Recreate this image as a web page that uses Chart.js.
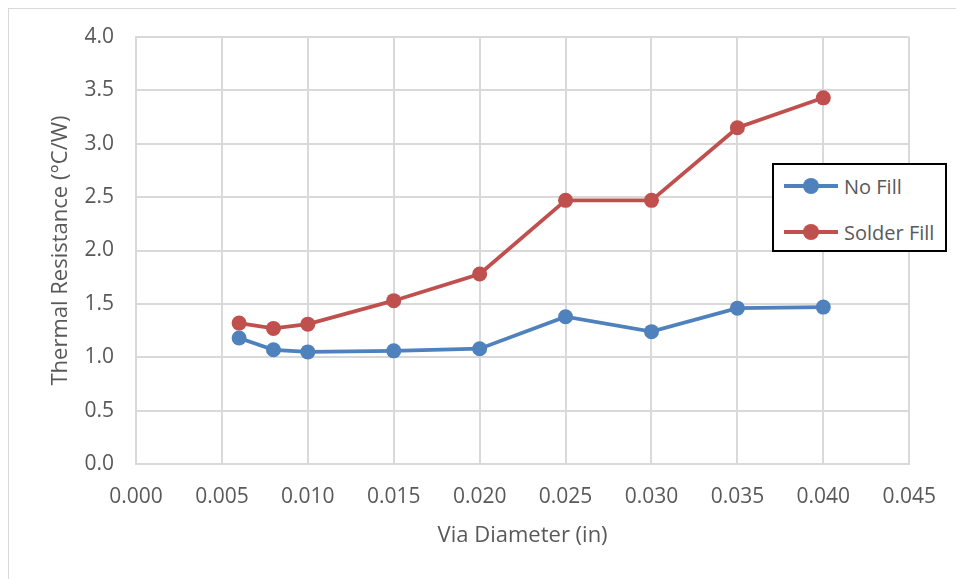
<!DOCTYPE html>
<html>
<head>
<meta charset="utf-8">
<script src="https://cdn.jsdelivr.net/npm/chart.js@4.4.1/dist/chart.umd.min.js"></script>
<style>
    html, body { margin: 0; padding: 0; background: #fff; }
    #wrap { position: relative; width: 956px; height: 579px; overflow: hidden; font-family: "Open Sans", sans-serif; }
    #frame { position: absolute; left: 8px; top: 8px; width: 1000px; height: 700px; border-top: 1px solid #d9d9d9; border-left: 1px solid #d9d9d9; }
    #chart { position: absolute; left: 0; top: 0; }
    #legend { position: absolute; left: 772px; top: 163px; width: 171px; height: 85px; border: 2px solid #000; background: #fff; }
    .item { position: absolute; left: 10px; height: 24px; display: flex; align-items: center; font-size: 20px; color: #595959; }
    .swatch { position: relative; width: 54px; height: 24px; margin-right: 6px; }
    .swatch .ln { position: absolute; left: 0; top: 10px; width: 54px; height: 4px; }
    .swatch .dot { position: absolute; left: 19px; top: 4px; width: 16px; height: 16px; border-radius: 50%; }
</style>
</head>
<body>
<div id="wrap">
    <div id="frame"></div>
    <canvas id="chart" width="956" height="579"></canvas>
    <div id="legend"></div>
</div>
<script>
const diameters = [0.006, 0.008, 0.010, 0.015, 0.020, 0.025, 0.030, 0.035, 0.040];
const noFill = [1.18, 1.07, 1.05, 1.06, 1.08, 1.38, 1.24, 1.46, 1.47];
const solderFill = [1.32, 1.27, 1.31, 1.53, 1.78, 2.47, 2.47, 3.15, 3.43];
const seriesNames = ['No Fill', 'Solder Fill'];
const seriesColors = ['#4f81bd', '#c0504d'];
const xTitle = 'Via Diameter (in)';
const yTitle = 'Thermal Resistance (°C/W)';

const tickFont = { family: '"Open Sans", sans-serif', size: 21 };
const titleFont = { family: '"Open Sans", sans-serif', size: 22 };

function toPoints(vals) {
    return vals.map((v, i) => ({ x: diameters[i], y: v }));
}

const datasets = [noFill, solderFill].map((vals, i) => ({
    label: seriesNames[i],
    data: toPoints(vals),
    borderColor: seriesColors[i],
    backgroundColor: seriesColors[i],
    borderWidth: 3.75,
    pointRadius: 7.5,
    pointHoverRadius: 7.5,
    pointBorderWidth: 0,
    tension: 0
}));

new Chart(document.getElementById('chart').getContext('2d'), {
    type: 'line',
    data: { datasets: datasets },
    options: {
        responsive: false,
        animation: false,
        layout: { padding: { top: 37, right: 44, left: 0, bottom: 0 } },
        plugins: { legend: { display: false }, tooltip: { enabled: false } },
        scales: {
            x: {
                type: 'linear',
                min: 0, max: 0.045,
                afterFit: s => { s.height = 115; },
                ticks: { stepSize: 0.005, padding: 20, color: '#595959', font: tickFont, maxRotation: 0,
                    callback: v => v.toFixed(3) },
                grid: { color: '#d9d9d9', lineWidth: 2, drawTicks: false },
                border: { color: '#d9d9d9', width: 2 },
                title: { display: true, text: xTitle, color: '#595959', font: titleFont, padding: { top: 0, bottom: 30 } }
            },
            y: {
                min: 0, max: 4,
                afterFit: s => { s.width = 136; },
                ticks: { stepSize: 0.5, padding: 22, color: '#595959', font: tickFont,
                    callback: v => v.toFixed(1) },
                grid: { color: '#d9d9d9', lineWidth: 2, drawTicks: false },
                border: { color: '#d9d9d9', width: 2 },
                title: { display: true, text: yTitle, color: '#595959', font: titleFont, padding: { top: 48, bottom: 0 } }
            }
        }
    }
});

// legend box
let html = '';
seriesNames.forEach((name, i) => {
    html += `<div class="item" style="top:${9 + i * 46}px"><div class="swatch"><div class="ln" style="background:${seriesColors[i]}"></div><div class="dot" style="background:${seriesColors[i]}"></div></div><span>${name}</span></div>`;
});
document.getElementById('legend').innerHTML = html;
</script>
</body>
</html>
